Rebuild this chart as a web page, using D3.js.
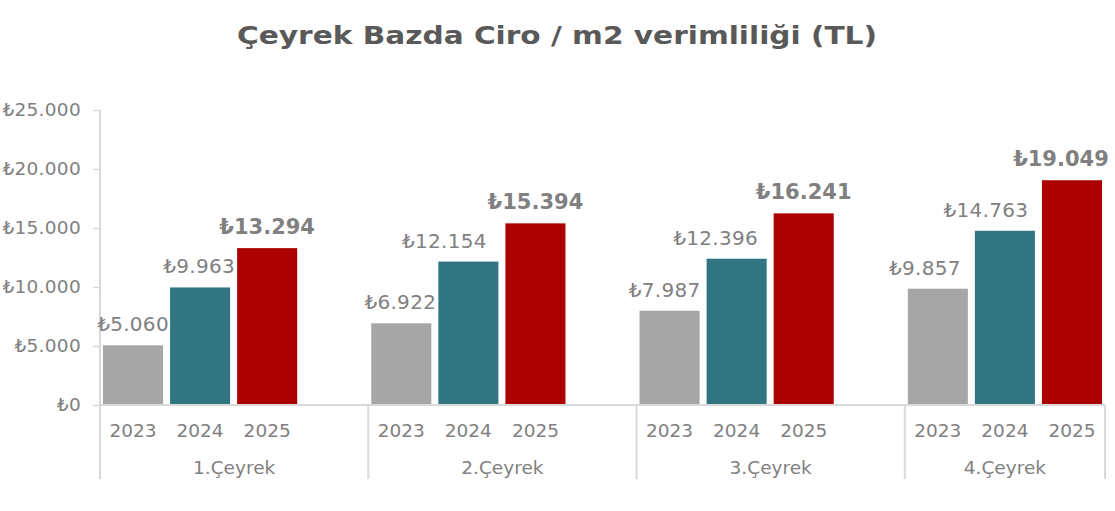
<!DOCTYPE html>
<html><head><meta charset="utf-8">
<script src="https://cdn.jsdelivr.net/npm/d3@7"></script>
<style>body{margin:0;background:#fff}svg{display:block}</style>
</head><body>
<svg id="c" width="1115" height="511"></svg>
<script>
const title = "Çeyrek Bazda Ciro / m2 verimliliği (TL)";
const quarters = ["1.Çeyrek","2.Çeyrek","3.Çeyrek","4.Çeyrek"];
const years = ["2023","2024","2025"];
const values2023 = [5060, 6922, 7987, 9857];
const values2024 = [9963, 12154, 12396, 14763];
const values2025 = [13294, 15394, 16241, 19049];
const yTicks = [0, 5000, 10000, 15000, 20000, 25000];
const colors = {"2023":"#a6a6a6","2024":"#317580","2025":"#ac0000"};

// layout only: horizontal nudges of data labels as placed in the original (px)
const labelNudge = {"2023":[0,-1,-5,-13],"2024":[-1,-24,-21,-19],"2025":[0,0,0,-11]};

const series = {"2023":values2023,"2024":values2024,"2025":values2025};
const slots = [];
quarters.forEach((q,qi)=>{
  years.forEach(y=>slots.push(q+"|"+y));
  if(qi<quarters.length-1) slots.push(q+"|gap");
});
const bars = [];
quarters.forEach((q,qi)=>years.forEach(y=>bars.push({q,qi,y,slot:q+"|"+y,v:series[y][qi]})));

const svg = d3.select("#c");
const L=100, R=1105, T=110, B=405;
const x = d3.scaleBand().domain(slots).range([L,R]).paddingInner(7/67).paddingOuter(3/67);
const y = d3.scaleLinear().domain([0,25000]).range([B,T]);
const grey="#d9d9d9", txt="#808080";
const fmt = v => "₺" + d3.format(",")(v).replace(/,/g,".");

// title
const t = svg.append("text").attr("x",557).attr("y",44).attr("text-anchor","middle")
  .attr("font-family","DejaVu Sans").attr("font-weight","bold").attr("font-size",24)
  .attr("fill","#595959").text(title);
if (t.node().getComputedTextLength()>0) t.attr("textLength",640).attr("lengthAdjust","spacingAndGlyphs");

// y axis
const yAxis = d3.axisLeft(y).tickValues(yTicks).tickSize(7).tickPadding(12).tickFormat(fmt);
const ga = svg.append("g").attr("transform",`translate(${L},0)`).call(yAxis);
ga.select(".domain").remove();
ga.selectAll(".tick line").attr("stroke",grey).attr("stroke-width",1.5);
ga.selectAll(".tick text").attr("fill",txt).attr("font-family","DejaVu Sans").attr("font-size",18.5)
  .attr("letter-spacing",0.3);
svg.append("line").attr("x1",L).attr("x2",L).attr("y1",T).attr("y2",B).attr("stroke",grey).attr("stroke-width",2);

// bars
svg.append("g").selectAll("rect").data(bars).join("rect")
  .attr("x",d=>x(d.slot)).attr("width",x.bandwidth())
  .attr("y",d=>y(d.v)).attr("height",d=>B-y(d.v)).attr("fill",d=>colors[d.y]);

// value labels
svg.append("g").selectAll("text").data(bars).join("text")
  .attr("x",d=>x(d.slot)+x.bandwidth()/2+labelNudge[d.y][d.qi]).attr("y",d=>y(d.v)-14)
  .attr("text-anchor","middle").attr("font-family","DejaVu Sans")
  .attr("font-size",d=>d.y==="2025"?21:20).attr("font-weight",d=>d.y==="2025"?"bold":"normal")
  .attr("letter-spacing",d=>d.y==="2025"?0:0.3)
  .attr("fill",txt).text(d=>fmt(d.v));

// x axis lines
svg.append("line").attr("x1",L).attr("x2",R).attr("y1",B).attr("y2",B).attr("stroke",grey).attr("stroke-width",2);
const step = x.step(), off = step*x.paddingOuter();
const seps = quarters.map(q=>x(q+"|2023")-off).concat([R]);
svg.append("g").selectAll("line").data(seps).join("line")
  .attr("x1",d=>d).attr("x2",d=>d).attr("y1",B).attr("y2",479).attr("stroke",grey).attr("stroke-width",2);

// year labels
svg.append("g").selectAll("text").data(bars).join("text")
  .attr("x",d=>x(d.slot)+x.bandwidth()/2).attr("y",437).attr("text-anchor","middle")
  .attr("font-family","DejaVu Sans").attr("font-size",18.5).attr("fill",txt).text(d=>d.y);

// quarter labels
svg.append("g").selectAll("text").data(quarters).join("text")
  .attr("x",(q,i)=>(seps[i]+seps[i+1])/2).attr("y",474).attr("text-anchor","middle")
  .attr("font-family","DejaVu Sans").attr("font-size",18.5).attr("fill",txt).text(q=>q);
</script>
</body></html>
